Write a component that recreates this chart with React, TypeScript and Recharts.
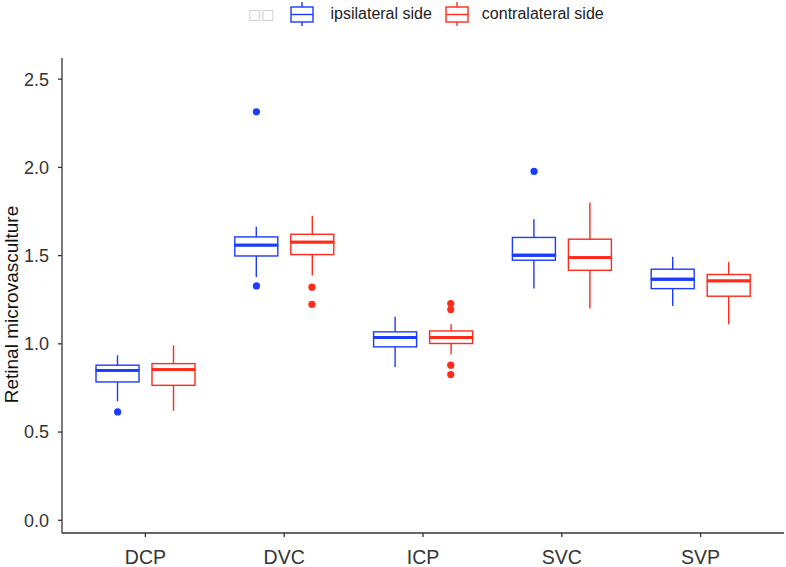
import React from "react";
import { ComposedChart, Bar, Scatter, XAxis, YAxis } from "recharts";

const categories = ["DCP", "DVC", "ICP", "SVC", "SVP"];

// ipsilateral side: whisker ends, quartiles, medians, outliers
const ipsiMin = [0.675, 1.379, 0.869, 1.313, 1.215];
const ipsiQ1 = [0.784, 1.498, 0.983, 1.474, 1.313];
const ipsiMedian = [0.85, 1.559, 1.036, 1.502, 1.366];
const ipsiQ3 = [0.879, 1.606, 1.068, 1.603, 1.423];
const ipsiMax = [0.935, 1.663, 1.153, 1.706, 1.493];
const ipsiOutliers = [[0.614], [2.315, 1.328], [], [1.978], []];

// contralateral side
const contraMin = [0.62, 1.389, 0.941, 1.2, 1.111];
const contraQ1 = [0.765, 1.506, 1.002, 1.417, 1.27];
const contraMedian = [0.854, 1.576, 1.036, 1.489, 1.357];
const contraQ3 = [0.888, 1.621, 1.073, 1.593, 1.393];
const contraMax = [0.992, 1.725, 1.111, 1.801, 1.464];
const contraOutliers = [[], [1.321, 1.224], [1.228, 1.194, 0.879, 0.826], [], []];

const yTicks = [0, 0.5, 1, 1.5, 2, 2.5];

const IPSI = "#1b3bff";
const CONTRA = "#ff2a1a";
const AXIS = "#333333";

const chartData = categories.map((name, i) => ({
  name,
  ipsiBase: ipsiMin[i],
  ipsiLowWhisker: ipsiQ1[i] - ipsiMin[i],
  ipsiLowBox: ipsiMedian[i] - ipsiQ1[i],
  ipsiHighBox: ipsiQ3[i] - ipsiMedian[i],
  ipsiHighWhisker: ipsiMax[i] - ipsiQ3[i],
  contraBase: contraMin[i],
  contraLowWhisker: contraQ1[i] - contraMin[i],
  contraLowBox: contraMedian[i] - contraQ1[i],
  contraHighBox: contraQ3[i] - contraMedian[i],
  contraHighWhisker: contraMax[i] - contraQ3[i],
}));

// dodge offset in category units for outlier dots
const toPoints = (outliers: number[][], offset: number) =>
  outliers.flatMap((vals, i) => vals.map((v) => ({ x: i + 1 + offset, y: v })));

const ipsiPoints = toPoints(ipsiOutliers, -0.2);
const contraPoints = toPoints(contraOutliers, 0.2);

const Empty = () => <g />;

const whisker = (color: string) => (props: any) => {
  const { x, y, width, height } = props;
  const cx = x + width / 2;
  return <line x1={cx} x2={cx} y1={y} y2={y + height} stroke={color} strokeWidth={1.4} />;
};

const lowerBox = (color: string) => (props: any) => {
  const { x, y, width, height } = props;
  return (
    <g>
      <rect x={x} y={y} width={width} height={height} fill="none" stroke={color} strokeWidth={1.4} />
      <line x1={x} x2={x + width} y1={y} y2={y} stroke={color} strokeWidth={2.8} />
    </g>
  );
};

const upperBox = (color: string) => (props: any) => {
  const { x, y, width, height } = props;
  return (
    <g>
      <rect x={x} y={y} width={width} height={height} fill="none" stroke={color} strokeWidth={1.4} />
      <line x1={x} x2={x + width} y1={y + height} y2={y + height} stroke={color} strokeWidth={2.8} />
    </g>
  );
};

const dot = (color: string) => (props: any) => <circle cx={props.cx} cy={props.cy} r={3.6} fill={color} />;

const LegendGlyph = ({ color }: { color: string }) => (
  <svg width={24} height={26} style={{ display: "block" }}>
    <line x1={12} x2={12} y1={1} y2={25} stroke={color} strokeWidth={1.4} />
    <rect x={1} y={6} width={22} height={15} fill="white" stroke={color} strokeWidth={1.4} />
    <line x1={1} x2={23} y1={13.5} y2={13.5} stroke={color} strokeWidth={1.4} />
  </svg>
);

const YTitle = (props: any) => {
  const { viewBox } = props;
  const cy = viewBox.y + viewBox.height / 2 + 9;
  return (
    <text
      x={18}
      y={cy}
      transform={`rotate(-90, 18, ${cy})`}
      textAnchor="middle"
      fontSize={19}
      fill="#111"
    >
      Retinal microvasculture
    </text>
  );
};

export default function App() {
  return (
    <div
      style={{
        position: "absolute",
        left: 0,
        top: 0,
        width: 786,
        height: 567,
        background: "white",
        fontFamily: "'Liberation Sans', Arial, sans-serif",
      }}
    >
      <div
        style={{
          position: "absolute",
          top: 1,
          left: 248,
          display: "flex",
          alignItems: "center",
          fontSize: 16,
          color: "#222",
        }}
      >
        <span style={{ fontFamily: "'DejaVu Sans'", fontSize: 14, color: "#c8c8c8", marginRight: 16 }}>□□</span>
        <LegendGlyph color={IPSI} />
        <span style={{ marginLeft: 16, marginRight: 13 }}>ipsilateral side</span>
        <LegendGlyph color={CONTRA} />
        <span style={{ marginLeft: 13 }}>contralateral side</span>
      </div>
      <ComposedChart
        width={786}
        height={567}
        data={chartData}
        margin={{ top: 58, right: 2, bottom: 0, left: 0 }}
        barGap={13}
        barSize={43}
      >
        <XAxis
          xAxisId="cat"
          dataKey="name"
          type="category"
          height={34}
          padding={{ left: 14, right: 14 }}
          tickSize={4}
          tickMargin={13}
          axisLine={{ stroke: AXIS, strokeWidth: 1.3 }}
          tickLine={{ stroke: AXIS, strokeWidth: 1.3 }}
          tick={{ fontSize: 19.5, fill: "#333" }}
        />
        <XAxis
          xAxisId="num"
          dataKey="x"
          type="number"
          domain={[0.5, 5.5]}
          padding={{ left: 14, right: 14 }}
          hide
        />
        <YAxis
          width={62}
          type="number"
          domain={[-0.072, 2.62]}
          allowDataOverflow
          ticks={yTicks}
          tickFormatter={(v: number) => v.toFixed(1)}
          tickSize={4}
          tickMargin={9}
          axisLine={{ stroke: AXIS, strokeWidth: 1.3 }}
          tickLine={{ stroke: AXIS, strokeWidth: 1.3 }}
          tick={{ fontSize: 18, fill: "#333" }}
          label={{ content: YTitle }}
        />
        <Bar xAxisId="cat" dataKey="ipsiBase" stackId="ipsi" shape={Empty} isAnimationActive={false} />
        <Bar xAxisId="cat" dataKey="ipsiLowWhisker" stackId="ipsi" shape={whisker(IPSI)} isAnimationActive={false} />
        <Bar xAxisId="cat" dataKey="ipsiLowBox" stackId="ipsi" shape={lowerBox(IPSI)} isAnimationActive={false} />
        <Bar xAxisId="cat" dataKey="ipsiHighBox" stackId="ipsi" shape={upperBox(IPSI)} isAnimationActive={false} />
        <Bar xAxisId="cat" dataKey="ipsiHighWhisker" stackId="ipsi" shape={whisker(IPSI)} isAnimationActive={false} />
        <Bar xAxisId="cat" dataKey="contraBase" stackId="contra" shape={Empty} isAnimationActive={false} />
        <Bar xAxisId="cat" dataKey="contraLowWhisker" stackId="contra" shape={whisker(CONTRA)} isAnimationActive={false} />
        <Bar xAxisId="cat" dataKey="contraLowBox" stackId="contra" shape={lowerBox(CONTRA)} isAnimationActive={false} />
        <Bar xAxisId="cat" dataKey="contraHighBox" stackId="contra" shape={upperBox(CONTRA)} isAnimationActive={false} />
        <Bar xAxisId="cat" dataKey="contraHighWhisker" stackId="contra" shape={whisker(CONTRA)} isAnimationActive={false} />
        <Scatter xAxisId="num" data={ipsiPoints} dataKey="y" shape={dot(IPSI)} isAnimationActive={false} />
        <Scatter xAxisId="num" data={contraPoints} dataKey="y" shape={dot(CONTRA)} isAnimationActive={false} />
      </ComposedChart>
    </div>
  );
}
